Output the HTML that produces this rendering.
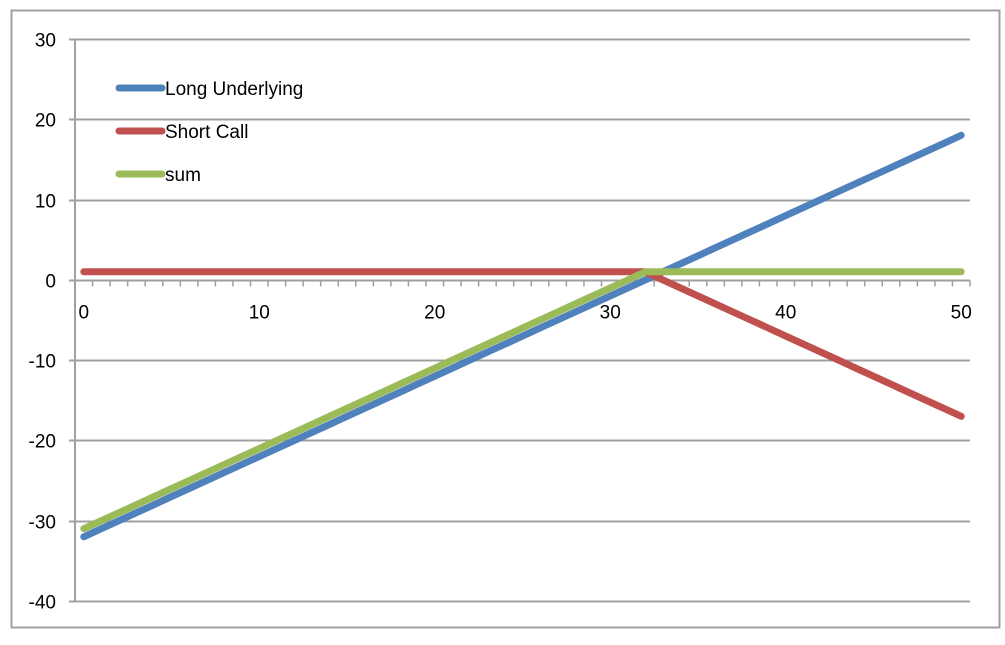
<!DOCTYPE html>
<html><head><meta charset="utf-8"><style>
body{margin:0;background:#fff;}
svg text{font-family:"Liberation Sans",sans-serif;font-size:19px;fill:#000;}
</style></head><body>
<svg id="chart" width="1005" height="640" xmlns="http://www.w3.org/2000/svg">
<rect x="11.5" y="10.5" width="988" height="617" fill="#fff" stroke="#a0a0a0" stroke-width="2"/>
<g id="grid"></g><g id="axes"></g><g id="series"></g><g id="legend"></g>
</svg>
<script>
const categories=[0,1,2,3,4,5,6,7,8,9,10,11,12,13,14,15,16,17,18,19,20,21,22,23,24,25,26,27,28,29,30,31,32,33,34,35,36,37,38,39,40,41,42,43,44,45,46,47,48,49,50];
const longUnderlying=[-32,-31,-30,-29,-28,-27,-26,-25,-24,-23,-22,-21,-20,-19,-18,-17,-16,-15,-14,-13,-12,-11,-10,-9,-8,-7,-6,-5,-4,-3,-2,-1,0,1,2,3,4,5,6,7,8,9,10,11,12,13,14,15,16,17,18];
const shortCall=[1,1,1,1,1,1,1,1,1,1,1,1,1,1,1,1,1,1,1,1,1,1,1,1,1,1,1,1,1,1,1,1,1,0,-1,-2,-3,-4,-5,-6,-7,-8,-9,-10,-11,-12,-13,-14,-15,-16,-17];
const sumSeries=[-31,-30,-29,-28,-27,-26,-25,-24,-23,-22,-21,-20,-19,-18,-17,-16,-15,-14,-13,-12,-11,-10,-9,-8,-7,-6,-5,-4,-3,-2,-1,0,1,1,1,1,1,1,1,1,1,1,1,1,1,1,1,1,1,1,1];
const yTicks=[30,20,10,0,-10,-20,-30,-40];
const xLabels=[0,10,20,30,40,50];
const seriesNames=["Long Underlying","Short Call","sum"];
const seriesColors=["#4f81bd","#c0504d","#9bbb59"];

const NS="http://www.w3.org/2000/svg";
const L=75,R=970,T=39,B=601,yMax=30,yMin=-40;
const band=(R-L)/categories.length;
function xs(i){return L+band*(i+0.5);}
function ys(v){return T+(yMax-v)/(yMax-yMin)*(B-T);}
function mk(tag,attrs,parent){const e=document.createElementNS(NS,tag);for(const k in attrs)e.setAttribute(k,attrs[k]);parent.appendChild(e);return e;}
const grid=document.getElementById('grid'),axes=document.getElementById('axes'),ser=document.getElementById('series'),leg=document.getElementById('legend');
yTicks.forEach(v=>{
  const y=Math.round(ys(v))+0.5;
  if(v!==0){const g=mk('line',{x1:L-6,x2:R,y1:y,y2:y,stroke:'#a0a0a0','stroke-width':2},grid);
  
  }
  const t=mk('text',{x:56,y:y+7,'text-anchor':'end'},axes);t.textContent=v;
  
  
});
const ya=mk('line',{x1:L,x2:L,y1:T,y2:B,stroke:'#a0a0a0','stroke-width':2},axes);


const y0=Math.round(ys(0))+0.5;
const xa=mk('line',{x1:L-6,x2:R,y1:y0,y2:y0,stroke:'#a0a0a0','stroke-width':2},axes);


for(let i=0;i<=categories.length;i++){
  const x=L+band*i;
  const tk=mk('line',{x1:x,x2:x,y1:y0,y2:y0+6,stroke:'#a0a0a0','stroke-width':1.5},axes);
  
  
}
xLabels.forEach(v=>{
  const i=categories.indexOf(v);
  const t=mk('text',{x:xs(i),y:y0+38,'text-anchor':'middle'},axes);t.textContent=v;
  
  
});
[longUnderlying,shortCall,sumSeries].forEach((arr,k)=>{
  const d=arr.map((v,i)=>(i?'L':'M')+xs(i).toFixed(1)+' '+ys(v).toFixed(1)).join(' ');
  const p=mk('path',{d:d,fill:'none',stroke:seriesColors[k],'stroke-width':7,'stroke-linecap':'round','stroke-linejoin':'round'},ser);
  
  
});
seriesNames.forEach((n,k)=>{
  const y=88+k*43;
  const g=mk('g',{},leg);
  
  
  mk('line',{x1:119,x2:162,y1:y,y2:y,stroke:seriesColors[k],'stroke-width':7,'stroke-linecap':'round'},g);
  const t=mk('text',{x:165,y:y+7},g);t.textContent=n;
});
</script>
</body></html>
